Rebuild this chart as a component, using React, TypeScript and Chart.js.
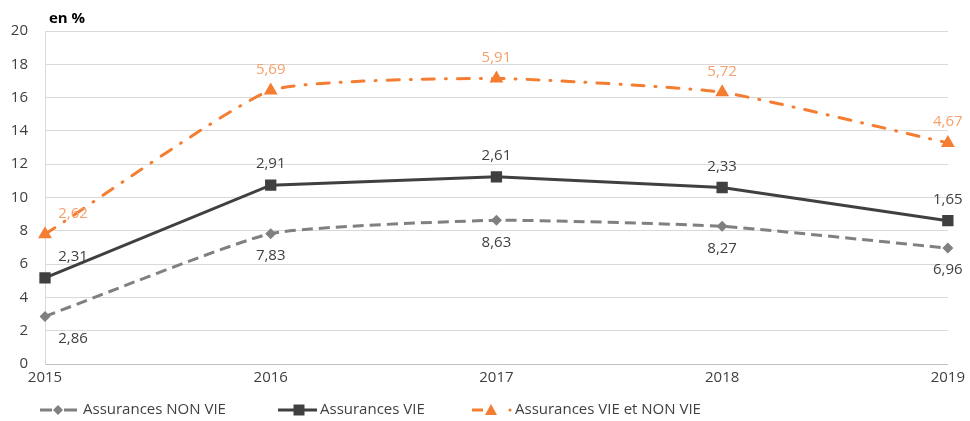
import React, { useEffect, useRef } from "react";
import { Chart, registerables } from "chart.js";

Chart.register(...registerables);

const years = ["2015", "2016", "2017", "2018", "2019"];
const nonVie = [2.86, 7.83, 8.63, 8.27, 6.96];
const vie = [2.31, 2.91, 2.61, 2.33, 1.65];
const vieEtNonVie = [2.62, 5.69, 5.91, 5.72, 4.67];
const yTicks = [0, 2, 4, 6, 8, 10, 12, 14, 16, 18, 20];
const seriesNames = ["Assurances NON VIE", "Assurances VIE", "Assurances VIE et NON VIE"];

const FONT = "'Open Sans', sans-serif";
const TXT = "#404040";
const GRAY = "#808080";
const DARK = "#404040";
const ORANGE = "#F47D32";
const ORANGE_LBL = "#F5A06A";

const labelPlugin = {
  id: "valueLabels",
  afterDatasetsDraw(chart: any) {
    const ctx = chart.ctx;
    ctx.save();
    ctx.font = `15px ${FONT}`;
    ctx.textAlign = "center";
    ctx.textBaseline = "middle";
    chart.data.datasets.forEach((ds: any, di: number) => {
      const meta = chart.getDatasetMeta(di);
      meta.data.forEach((pt: any, i: number) => {
        const v = ds.data[i] as number;
        const txt = v.toFixed(2).replace(".", ",");
        const x = pt.x + (i === 0 ? 28 : 0);
        const y = pt.y + (di === 0 ? 22 : -21);
        ctx.fillStyle = di === 2 ? ORANGE_LBL : TXT;
        ctx.fillText(txt, x, y);
      });
    });
    ctx.restore();
  },
};

function drawMarker(ctx: CanvasRenderingContext2D, style: string, x: number, y: number, color: string) {
  ctx.fillStyle = color;
  ctx.beginPath();
  if (style === "diamond") {
    ctx.moveTo(x, y - 5);
    ctx.lineTo(x + 5, y);
    ctx.lineTo(x, y + 5);
    ctx.lineTo(x - 5, y);
  } else if (style === "square") {
    ctx.rect(x - 5.5, y - 5.5, 11, 11);
  } else {
    ctx.moveTo(x, y - 6);
    ctx.lineTo(x + 6, y + 5);
    ctx.lineTo(x - 6, y + 5);
  }
  ctx.closePath();
  ctx.fill();
}

const extrasPlugin = {
  id: "extras",
  afterDraw(chart: any) {
    const ctx = chart.ctx as CanvasRenderingContext2D;
    ctx.save();
    // unit title
    ctx.font = `bold 15px ${FONT}`;
    ctx.fillStyle = "#000";
    ctx.textAlign = "left";
    ctx.textBaseline = "middle";
    ctx.fillText("en %", 49, 19);

    const ly = 410;
    ctx.lineWidth = 3;
    ctx.setLineDash([]);
    // item 1
    ctx.strokeStyle = GRAY;
    ctx.beginPath();
    ctx.moveTo(40, ly);
    ctx.lineTo(52, ly);
    ctx.moveTo(64, ly);
    ctx.lineTo(77, ly);
    ctx.stroke();
    drawMarker(ctx, "diamond", 58, ly, GRAY);
    // item 2
    ctx.strokeStyle = DARK;
    ctx.beginPath();
    ctx.moveTo(278, ly);
    ctx.lineTo(317, ly);
    ctx.stroke();
    drawMarker(ctx, "square", 299, ly, DARK);
    // item 3
    ctx.strokeStyle = ORANGE;
    ctx.beginPath();
    ctx.moveTo(472, ly);
    ctx.lineTo(483, ly);
    ctx.stroke();
    drawMarker(ctx, "triangle", 491, ly, ORANGE);
    ctx.fillStyle = ORANGE;
    ctx.beginPath();
    ctx.arc(510, ly, 1.6, 0, Math.PI * 2);
    ctx.fill();

    ctx.font = `15px ${FONT}`;
    ctx.fillStyle = TXT;
    ctx.fillText(seriesNames[0], 83, ly);
    ctx.fillText(seriesNames[1], 320, ly);
    ctx.fillText(seriesNames[2], 515, ly);
    ctx.restore();
  },
};

export default function App() {
  const ref = useRef<HTMLCanvasElement | null>(null);
  useEffect(() => {
    document.body.style.margin = "0";
    const chart = new Chart(ref.current as HTMLCanvasElement, {
      type: "line",
      data: {
        labels: years,
        datasets: [
          {
            label: seriesNames[0],
            data: nonVie,
            borderColor: GRAY,
            backgroundColor: GRAY,
            borderWidth: 3,
            borderDash: [11, 6],
            pointStyle: "rectRot",
            pointRadius: 5.5,
            pointBorderWidth: 0,
            fill: false,
            tension: 0.15,
          },
          {
            label: seriesNames[1],
            data: vie,
            borderColor: DARK,
            backgroundColor: DARK,
            borderWidth: 3,
            pointStyle: "rect",
            pointRadius: 8,
            pointBorderWidth: 0,
            fill: false,
            tension: 0,
          },
          {
            label: seriesNames[2],
            data: vieEtNonVie,
            borderColor: ORANGE,
            backgroundColor: ORANGE,
            borderWidth: 3,
            borderDash: [12, 11, 1, 11],
            borderCapStyle: "round",
            pointStyle: "triangle",
            pointRadius: 8,
            pointBorderWidth: 0,
            fill: false,
            tension: 0.15,
          },
        ],
      },
      options: {
        animation: false,
        responsive: false,
        maintainAspectRatio: false,
        layout: { padding: { left: 0, right: 18, top: 31, bottom: 0 } },
        plugins: { legend: { display: false }, tooltip: { enabled: false } },
        scales: {
          x: {
            offset: false,
            grid: { display: false, drawTicks: false },
            border: { display: true, color: "#BFBFBF", width: 1 },
            ticks: { color: TXT, font: { family: FONT, size: 15 }, padding: 5, maxRotation: 0 },
            afterFit: (s: any) => {
              s.height = 57;
            },
          },
          y: {
            stacked: true,
            min: 0,
            max: 20,
            afterBuildTicks: (s: any) => {
              s.ticks = yTicks.map((v) => ({ value: v }));
            },
            grid: { color: "#D9D9D9", lineWidth: 1, drawTicks: false },
            border: { display: true, color: "#D9D9D9", width: 1 },
            ticks: { color: TXT, font: { family: FONT, size: 15 }, padding: 17 },
            afterFit: (s: any) => {
              s.width = 45;
            },
          },
        },
      },
      plugins: [labelPlugin, extrasPlugin],
    } as any);
    return () => chart.destroy();
  }, []);
  return (
    <div style={{ width: 970, height: 421 }}>
      <canvas ref={ref} width={970} height={421} style={{ display: "block" }} />
    </div>
  );
}
